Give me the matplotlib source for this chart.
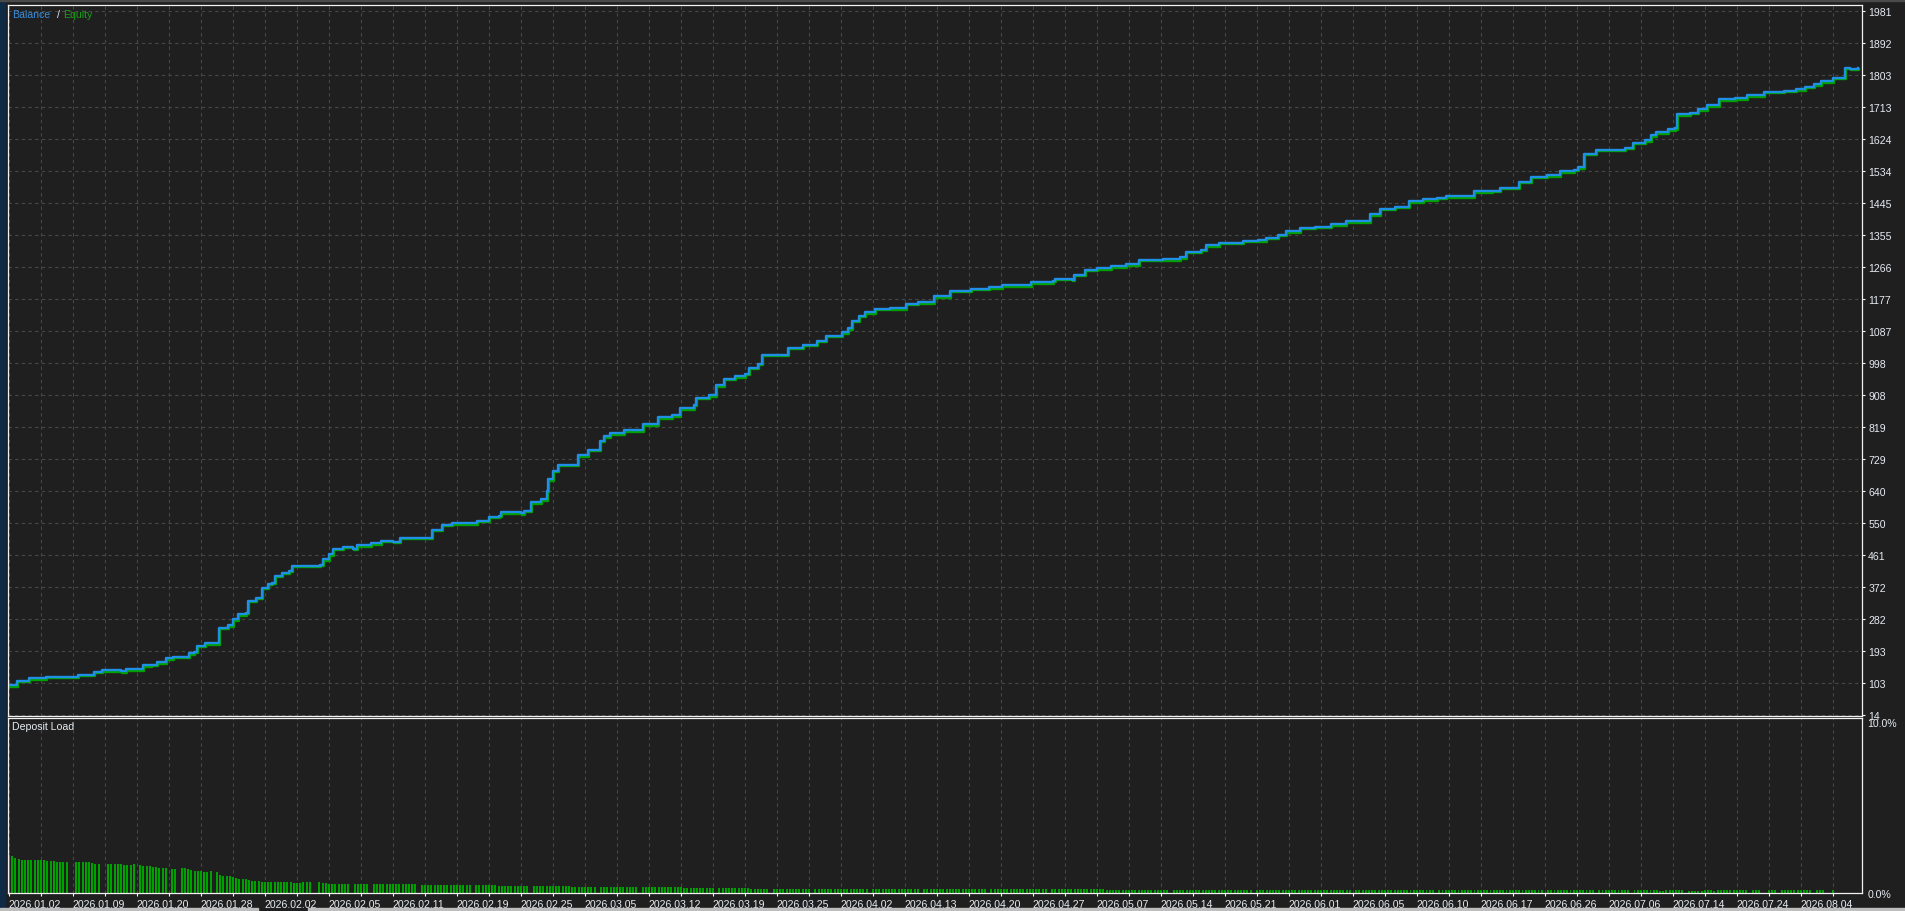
import numpy as np
import matplotlib
matplotlib.use("Agg")
import matplotlib.pyplot as plt
import matplotlib.transforms as mtransforms
from matplotlib.patches import Rectangle

plt.rcParams["font.family"] = ["Liberation Sans", "DejaVu Sans"]

# Balance curve: (trade number, balance)
trade_no = [0, 2.6, 6.3, 11.5, 21.7, 26.7, 29, 35, 36.5, 42, 44.5, 46.4, 49, 51.4,
            56.3, 57.8, 58.8, 61.2, 65.6, 68.6, 69.9, 71.7, 74.2, 74.8, 77.3, 79.1,
            81, 82.2, 83.2, 85.3, 87.5, 88.6, 97.3, 98, 100.1, 101.4, 104.4, 107.5,
            108.8, 113, 116.2, 119.9, 122.3, 132.2, 135.3, 138.4, 146.4, 150.1, 153.2,
            153.8, 160, 161, 163, 166.2, 168, 168.6, 169.9, 171.7, 177.9, 181, 184.7,
            185.9, 187.8, 192.3, 198.2, 202.7, 207.2, 209.8, 214.1, 214.6, 218.9,
            220.8, 223.4, 227, 229.9, 231.2, 234, 235.3, 240.3, 243.5, 248, 252.6,
            255.2, 260.3, 262.3, 263.6, 265.5, 267.5, 270.7, 275.2, 280.4, 284, 289.2,
            294, 300.5, 306.3, 310.2, 319.3, 326.4, 327, 332.3, 332.9, 336.2, 340,
            344.5, 349.1, 353, 360.7, 365.9, 367.9, 372.4, 374, 378.2, 385.8, 390.3,
            392.8, 396.6, 399.2, 403.6, 408.1, 413.2, 417.7, 425.3, 428.5, 433, 437.4,
            441.9, 446.4, 449, 457.9, 463.6, 466.1, 471.9, 475.7, 480.8, 484.6, 489.1,
            490.5, 492.3, 496.1, 505, 507.6, 511.4, 513.3, 514.6, 518.4, 520.7, 521.3,
            525.5, 528, 530.6, 534.4, 539.5, 543.3, 548.4, 554.8, 558.6, 561.2, 564,
            566.3, 570.1, 573.8, 575.2, 578]
balance = [98, 110, 118, 121, 127, 136, 140, 137, 143, 154, 155, 162, 173, 177,
           188, 191, 208, 215, 259, 266, 283, 297, 301, 334, 343, 371,
           381, 385, 404, 413, 418, 432, 434, 450, 464, 480, 485, 480,
           489, 495, 502, 499, 510, 532, 546, 551, 557, 569, 571,
           581, 579, 585, 609, 618, 641, 674, 697, 714, 741, 756, 781,
           794, 802, 810, 828, 847, 852, 872, 882, 901, 908,
           936, 954, 962, 968, 985, 996, 1021, 1022, 1041, 1050, 1061,
           1075, 1085, 1096, 1117, 1130, 1140, 1150, 1152, 1164, 1168, 1185,
           1201, 1206, 1210, 1216, 1224, 1229, 1234, 1231, 1245, 1259, 1263,
           1269, 1275, 1287, 1289, 1294, 1310, 1315, 1327, 1334, 1340, 1342,
           1349, 1357, 1367, 1376, 1379, 1386, 1395, 1414, 1430, 1435, 1450,
           1456, 1461, 1465, 1478, 1480, 1488, 1505, 1519, 1523, 1535, 1539,
           1545, 1583, 1595, 1600, 1614, 1621, 1635, 1644, 1652, 1655, 1694,
           1698, 1708, 1719, 1735, 1739, 1747, 1756, 1759, 1763, 1770, 1778,
           1786, 1795, 1823, 1821, 1823]

# Deposit load per trade, given as runs of (number of trades, load %)
load_runs = [(1, 2.19), (1, 2.11), (1, 2.0), (1, 1.94), (8, 1.89), (3, 1.83), (4, 1.77),
             (2, 0), (5, 1.77), (1, 1.71), (2, 1.66), (2, 0), (5, 1.66), (3, 1.6), (1, 1.66),
             (1, 0), (1, 1.6), (3, 1.54), (2, 1.49), (3, 1.43), (1, 0), (2, 1.37), (1, 0),
             (2, 1.43), (1, 1.37), (1, 1.31), (3, 1.26), (2, 1.2), (1, 1.26), (1, 0), (1, 1.2),
             (1, 1.03), (3, 0.97), (1, 0.91), (1, 0.86), (3, 0.8), (1, 0.74), (3, 0.69),
             (10, 0.63), (3, 0.57), (3, 0.63), (2, 0), (1, 0.63), (2, 0.57), (7, 0.51), (1, 0),
             (5, 0.51), (1, 0), (6, 0.5), (8, 0.5), (1, 0), (7, 0.48), (9, 0.44), (1, 0),
             (7, 0.44), (10, 0.4), (1, 0), (12, 0.38), (8, 0.34), (1, 0), (12, 0.32), (1, 0),
             (13, 0.32), (10, 0.27), (1, 0), (10, 0.26), (6, 0.23), (1, 0), (12, 0.23), (1, 0),
             (17, 0.22), (1, 0), (15, 0.21), (1, 0), (20, 0.21), (1, 0), (18, 0.2), (1, 0),
             (17, 0.2), (20, 0.19), (1, 0), (25, 0.19), (1, 0), (30, 0.18), (1, 0), (25, 0.18),
             (1, 0), (21, 0.18), (12, 0.17), (1, 0), (15, 0.17), (1, 0), (10, 0.17), (1, 0),
             (8, 0.17), (2, 0.11), (6, 0.17), (1, 0), (5, 0.11), (3, 0.17), (1, 0.11),
             (10, 0.17), (1, 0), (3, 0.17), (2, 0), (3, 0.17), (1, 0), (10, 0.17), (1, 0),
             (3, 0.17), (2, 0), (1, 0.17)]

date_labels = ["2026.01.02", "2026.01.09", "2026.01.20", "2026.01.28", "2026.02.02",
               "2026.02.05", "2026.02.11", "2026.02.19", "2026.02.25", "2026.03.05",
               "2026.03.12", "2026.03.19", "2026.03.25", "2026.04.02", "2026.04.13",
               "2026.04.20", "2026.04.27", "2026.05.07", "2026.05.14", "2026.05.21",
               "2026.06.01", "2026.06.05", "2026.06.10", "2026.06.17", "2026.06.26",
               "2026.07.06", "2026.07.14", "2026.07.24", "2026.08.04"]
balance_ticks = [14, 103, 193, 282, 372, 461, 550, 640, 729, 819, 908, 998, 1087,
                 1177, 1266, 1355, 1445, 1534, 1624, 1713, 1803, 1892, 1981]

counts = [c for c, v in load_runs]
values = [v for c, v in load_runs]
load = np.repeat(values, counts)
load_trade = np.arange(len(load))

bg = "#1f1f1f"
fg = "#e6ecf2"
grid_c = "#474747"
blue = "#2090e6"
green = "#00a000"
fs = 7.6

W, H = 1906, 912
fig = plt.figure(figsize=(W / 100, H / 100), dpi=100, facecolor=bg)
ax = fig.add_axes([8 / W, (H - 717) / H, 1854 / W, 711 / H])
ax2 = fig.add_axes([8 / W, (H - 894) / H, 1854 / W, 175.3 / H])

xmin, xmax = -0.31, 579.1

# equity drawn under the balance, nudged a pixel down-right
eq_tr = mtransforms.offset_copy(ax.transData, fig=fig, x=1, y=-1.5, units="dots")
ax.plot(trade_no, balance, drawstyle="steps-post", color=green, lw=1.7, transform=eq_tr)
ax.plot(trade_no, balance, drawstyle="steps-post", color=blue, lw=1.7)

ax2.bar(load_trade, load, width=0.62, color=green, linewidth=0)

xt = np.arange(0, 580, 10)
xl = []
for i in range(len(xt)):
    xl.append(date_labels[i // 2] if i % 2 == 0 else "")

for a in (ax, ax2):
    a.set_facecolor(bg)
    a.set_xlim(xmin, xmax)
    a.set_xticks(xt)
    for s in a.spines.values():
        s.set_color("#f2f2f2")
        s.set_linewidth(0.9)
    a.grid(True, axis="x", color=grid_c, ls=(0, (3, 3)), lw=0.8)
    a.set_axisbelow(True)

ax.set_ylim(12, 1999)
ax.set_yticks(balance_ticks)
ax.set_yticklabels([str(v) for v in balance_ticks])
ax.yaxis.tick_right()
ax.grid(True, axis="y", color=grid_c, ls=(0, (3, 3)), lw=0.8)
ax.tick_params(axis="y", direction="out", length=2.5, pad=2, colors="#f2f2f2",
               labelcolor=fg, labelsize=fs)
ax.tick_params(axis="x", length=0, labelbottom=False)

ax2.set_ylim(0, 10)
ax2.set_yticks([0, 10])
ax2.set_yticklabels(["0.0%", "10.0%"])
ax2.yaxis.tick_right()
ax2.tick_params(axis="y", length=0, pad=4, labelcolor=fg, labelsize=fs)
ax2.yaxis.get_major_ticks()[1].label2.set_verticalalignment("top")
ax2.set_xticklabels(xl)
ax2.tick_params(axis="x", direction="out", length=2.5, pad=1.5, colors="#f2f2f2",
                labelcolor=fg, labelsize=fs)
for lab in ax2.get_xticklabels():
    lab.set_horizontalalignment("left")

# legend texts in the panel corners
fig.text(12 / W, 1 - 15 / H, "Balance", color="#3a8ee0", fontsize=fs, va="center")
fig.text(57 / W, 1 - 15 / H, "/", color=fg, fontsize=fs, va="center")
fig.text(63 / W, 1 - 15 / H, "Equity", color="#18a018", fontsize=fs, va="center")
fig.text(12 / W, 1 - 727 / H, "Deposit Load", color=fg, fontsize=fs, va="center")

# window frame bits
fig.patches.append(Rectangle((0, 0), 5 / W, 1, transform=fig.transFigure,
                             color="#0f2a44", zorder=0))
fig.patches.append(Rectangle((0, 1 - 2 / H), 1, 2 / H, transform=fig.transFigure,
                             color="#4a4a4a", zorder=0))
fig.patches.append(Rectangle((0, 0), 258 / W, 3 / H, transform=fig.transFigure,
                             color="#bdbdbd", zorder=0))
fig.patches.append(Rectangle((308 / W, 0), 1 - 308 / W, 3 / H, transform=fig.transFigure,
                             color="#bdbdbd", zorder=0))

fig.savefig("out.png", dpi=100, facecolor=bg)
